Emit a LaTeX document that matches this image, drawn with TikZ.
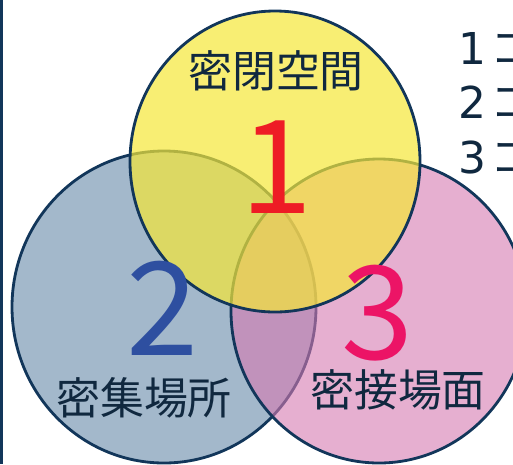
\documentclass[tikz,border=0pt]{standalone}
\usepackage{fontspec}
\setmainfont{Noto Sans CJK JP}
\newfontfamily\listdigits{DejaVu Sans}

\definecolor{rimblue}{HTML}{12365A}
\definecolor{inkblue}{HTML}{10283F}
\definecolor{setblue}{HTML}{A3B8CB}
\definecolor{setpink}{RGB}{213,122,177}
\definecolor{setyellow}{RGB}{245,231,56}
\definecolor{numred}{HTML}{EE1C25}
\definecolor{numblue}{HTML}{2E4FA0}
\definecolor{numpink}{HTML}{EC1466}

\begin{document}
\begin{tikzpicture}[x=0.02cm,y=-0.02cm,
  rim/.style={draw=rimblue, line width=1.6pt},
  setlabel/.style={text=inkblue, inner sep=0pt, font=\fontsize{25pt}{30pt}\selectfont},
  bignum/.style={inner sep=0pt, font=\fontsize{74pt}{80pt}\selectfont}]

\useasboundingbox (0,0) rectangle (513,464);

% frame line on the left
\draw[rimblue, line width=1.7pt] (1.5,0) -- (1.5,464);

% the three sets
\draw[rim, fill=setblue] (164,307) ellipse (152 and 156);
\draw[rim, fill=setpink, fill opacity=0.6] (379,311) ellipse (148 and 152);
\draw[rim, fill=setyellow, fill opacity=0.7] (275,161.5) ellipse (145 and 150.5);

% numbers
\node[bignum, text=numred] (one) at (277,167) {1};
\node[bignum, text=numblue] (two) at (163,308) {2};
\node[bignum, text=numpink] (three) at (378,313) {3};

% names of the sets
\node[setlabel] (closed) at (276,71) {密閉空間};
\node[setlabel] (crowded) at (144,398) {密集場所};
\node[setlabel] (contact) at (398,390) {密接場面};

% list on the right, cut by the edge
\foreach \i/\y in {1/48.5, 2/102.5, 3/157.5}
  \node[setlabel, anchor=west] (item\i) at (458,\y) {{\listdigits\i}\kern2.5pt コ};

\end{tikzpicture}
\end{document}
